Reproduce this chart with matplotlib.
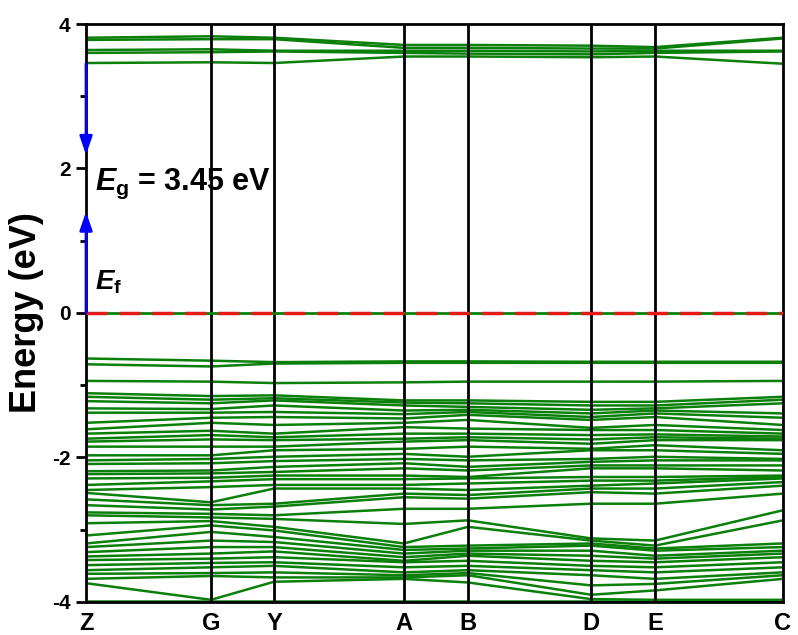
import matplotlib
matplotlib.use('Agg')
import matplotlib.pyplot as plt
import numpy as np

plt.rcParams['font.family'] = ['Liberation Sans', 'DejaVu Sans']
plt.rcParams['font.weight'] = 'bold'
plt.rcParams['mathtext.fontset'] = 'custom'
plt.rcParams['mathtext.it'] = 'Liberation Sans:italic:bold'
plt.rcParams['mathtext.rm'] = 'Liberation Sans:bold'
plt.rcParams['mathtext.bf'] = 'Liberation Sans:bold'

# High-symmetry points and path coordinates
k_labels = ['Z', 'G', 'Y', 'A', 'B', 'D', 'E', 'C']
k_pos = [0.0, 1.0, 1.504, 2.544, 3.056, 4.04, 4.552, 5.576]

# Valence band energies (eV) at each high-symmetry point (sorted)
val_Z = [-0.63, -0.71, -0.94, -1.11, -1.16, -1.22, -1.32, -1.38, -1.52, -1.61,
         -1.67, -1.74, -1.78, -1.85, -1.97, -2.04, -2.09, -2.19, -2.23, -2.29,
         -2.38, -2.45, -2.49, -2.58, -2.66, -2.76, -2.80, -2.91, -3.08, -3.19,
         -3.24, -3.31, -3.37, -3.42, -3.49, -3.56, -3.61, -3.68, -3.74, -3.99]
val_G = [-0.66, -0.74, -0.95, -1.15, -1.20, -1.25, -1.33, -1.38, -1.45, -1.52,
         -1.63, -1.69, -1.75, -1.85, -1.97, -2.02, -2.08, -2.18, -2.22, -2.28,
         -2.33, -2.41, -2.62, -2.66, -2.72, -2.78, -2.83, -2.88, -2.94, -3.03,
         -3.15, -3.24, -3.33, -3.40, -3.46, -3.52, -3.60, -3.64, -3.97, -3.99]
val_Y = [-0.68, -0.70, -0.97, -1.14, -1.18, -1.21, -1.28, -1.37, -1.44, -1.55,
         -1.67, -1.72, -1.76, -1.85, -1.90, -1.99, -2.05, -2.13, -2.20, -2.25,
         -2.30, -2.38, -2.43, -2.64, -2.68, -2.80, -2.85, -2.96, -3.01, -3.10,
         -3.17, -3.24, -3.30, -3.38, -3.45, -3.50, -3.59, -3.66, -3.72, -3.99]
val_A = [-0.67, -0.69, -0.96, -1.21, -1.24, -1.28, -1.35, -1.40, -1.46, -1.52,
         -1.58, -1.67, -1.74, -1.78, -1.88, -1.95, -2.02, -2.08, -2.15, -2.25,
         -2.30, -2.38, -2.43, -2.50, -2.55, -2.71, -2.92, -3.19, -3.24, -3.28,
         -3.33, -3.38, -3.43, -3.45, -3.52, -3.59, -3.63, -3.66, -3.68, -3.99]
val_B = [-0.67, -0.69, -0.95, -1.21, -1.25, -1.30, -1.34, -1.37, -1.41, -1.48,
         -1.60, -1.67, -1.72, -1.76, -1.85, -1.99, -2.04, -2.13, -2.18, -2.27,
         -2.29, -2.36, -2.45, -2.52, -2.57, -2.71, -2.87, -2.96, -3.22, -3.26,
         -3.29, -3.33, -3.36, -3.43, -3.50, -3.56, -3.60, -3.63, -3.73, -3.99]
val_D = [-0.675, -0.69, -0.95, -1.23, -1.28, -1.34, -1.39, -1.44, -1.48, -1.59,
         -1.62, -1.69, -1.75, -1.81, -1.88, -1.90, -2.02, -2.06, -2.11, -2.15,
         -2.27, -2.32, -2.39, -2.43, -2.48, -2.64, -3.12, -3.15, -3.19, -3.22,
         -3.29, -3.36, -3.43, -3.50, -3.56, -3.63, -3.77, -3.90, -3.96, -3.99]
val_E = [-0.675, -0.69, -0.95, -1.23, -1.28, -1.32, -1.35, -1.39, -1.44, -1.55,
         -1.62, -1.68, -1.72, -1.76, -1.83, -1.90, -1.99, -2.04, -2.11, -2.15,
         -2.27, -2.32, -2.36, -2.43, -2.50, -2.64, -3.15, -3.22, -3.26, -3.29,
         -3.36, -3.40, -3.45, -3.52, -3.59, -3.68, -3.75, -3.84, -3.97, -3.99]
val_C = [-0.675, -0.69, -0.94, -1.16, -1.20, -1.25, -1.39, -1.45, -1.55, -1.62,
         -1.67, -1.71, -1.74, -1.76, -1.90, -1.95, -2.02, -2.04, -2.11, -2.18,
         -2.25, -2.27, -2.29, -2.34, -2.39, -2.50, -2.73, -2.87, -3.19, -3.24,
         -3.29, -3.33, -3.38, -3.45, -3.52, -3.59, -3.63, -3.68, -3.97, -3.99]

# Conduction band energies (eV)
con_Z = [3.46, 3.60, 3.64, 3.78, 3.81]
con_G = [3.47, 3.61, 3.65, 3.79, 3.83]
con_Y = [3.46, 3.62, 3.63, 3.79, 3.81]
con_A = [3.55, 3.60, 3.63, 3.67, 3.71]
con_B = [3.55, 3.59, 3.63, 3.67, 3.71]
con_D = [3.54, 3.58, 3.62, 3.66, 3.70]
con_E = [3.55, 3.60, 3.63, 3.66, 3.68]
con_C = [3.45, 3.62, 3.63, 3.80, 3.81]

fermi_level = 0.0
band_gap = 3.45
gap_arrow_down_tip = 2.19
gap_arrow_up_tip = 1.40

valence = np.array([val_Z, val_G, val_Y, val_A, val_B, val_D, val_E, val_C]).T
conduction = np.array([con_Z, con_G, con_Y, con_A, con_B, con_D, con_E, con_C]).T

fig = plt.figure(figsize=(7.98, 6.35), dpi=100)
ax = fig.add_axes([0.1078, 0.052, 0.8734, 0.9102])

band_color = '#0a800a'
for band in valence:
    ax.plot(k_pos, band, color=band_color, lw=1.8, zorder=2)
for band in conduction:
    ax.plot(k_pos, band, color=band_color, lw=1.8, zorder=2)

for k in k_pos[1:-1]:
    ax.axvline(k, color='black', lw=2, zorder=3)

ax.axhline(fermi_level, color=band_color, lw=2, zorder=3)
ax.axhline(fermi_level, color='#e41a1a', lw=2.5, ls=(0, (6, 3.5)), zorder=4)

# Band-gap arrows
ax.annotate('', xy=(k_pos[0], gap_arrow_down_tip), xytext=(k_pos[0], band_gap),
            arrowprops=dict(arrowstyle='-|>,head_length=1.1,head_width=0.38',
                            mutation_scale=10, color='blue', lw=2,
                            shrinkA=0, shrinkB=0), zorder=6, annotation_clip=False)
ax.annotate('', xy=(k_pos[0], gap_arrow_up_tip), xytext=(k_pos[0], fermi_level),
            arrowprops=dict(arrowstyle='-|>,head_length=1.1,head_width=0.38',
                            mutation_scale=10, color='blue', lw=2,
                            shrinkA=0, shrinkB=0), zorder=6, annotation_clip=False)

ax.text(0.075, 1.70, r'$E_{\mathrm{g}}$ = 3.45 eV', fontsize=22, fontweight='bold',
        va='baseline', ha='left', zorder=7)
ax.text(0.075, 0.32, r'$E_{\mathrm{f}}$', fontsize=20, fontweight='bold',
        va='baseline', ha='left', zorder=7)

ax.set_xlim(k_pos[0], k_pos[-1])
ax.set_ylim(-4, 4)
ax.set_xticks(k_pos)
ax.set_xticklabels(k_labels, fontsize=17, fontweight='bold')
ax.tick_params(axis='x', length=0, pad=7)
ax.set_yticks([-4, -2, 0, 2, 4])
ax.set_yticklabels(['-4', '-2', '0', '2', '4'], fontsize=15, fontweight='bold')
ax.set_yticks([-3, -1, 1, 3], minor=True)
ax.tick_params(axis='y', which='major', direction='out', length=7, width=2, pad=4)
ax.tick_params(axis='y', which='minor', direction='out', length=4, width=2)
ax.set_ylabel('Energy (eV)', fontsize=26, fontweight='bold', labelpad=6)

for s in ax.spines.values():
    s.set_linewidth(2)

fig.savefig('out.png', dpi=100)
